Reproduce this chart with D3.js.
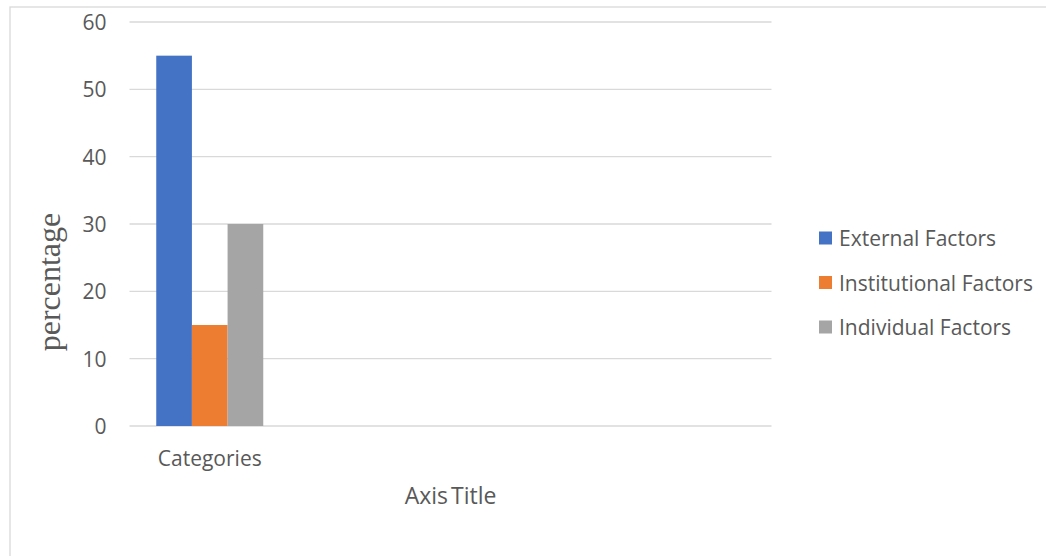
<!DOCTYPE html>
<html>
<head>
<meta charset="utf-8">
<script src="https://cdn.jsdelivr.net/npm/d3@7"></script>
<style>
  body { margin: 0; background: #fff; }
  svg { display: block; }
</style>
</head>
<body>
<svg id="chart" width="1046" height="556"></svg>
<script>
// chart data
const categories = ["Categories", "", "", ""];
const seriesNames = ["External Factors", "Institutional Factors", "Individual Factors"];
const seriesColors = ["#4472C4", "#ED7D31", "#A5A5A5"];
const externalValues = [55];
const institutionalValues = [15];
const individualValues = [30];
const yTicks = [0, 10, 20, 30, 40, 50, 60];

const seriesValues = [externalValues, institutionalValues, individualValues];

const svg = d3.select("#chart");
const plot = { left: 129.5, right: 771.5, top: 22, bottom: 426 };
const textColor = "#595959";
const font = "'Open Sans', sans-serif";

// outer chart border (runs off the right/bottom edge)
svg.append("rect")
    .attr("x", 10).attr("y", 7)
    .attr("width", 1100).attr("height", 600)
    .attr("fill", "none")
    .attr("stroke", "#d9d9d9")
    .attr("stroke-width", 1.3);

const x0 = d3.scaleBand()
    .domain(categories.map((d, i) => i))
    .range([plot.left, plot.right]);

const x1 = d3.scaleBand()
    .domain(seriesNames.map((d, i) => i))
    .range([0, x0.bandwidth()])
    .paddingOuter(0.75);

const y = d3.scaleLinear()
    .domain([0, 60])
    .range([plot.bottom, plot.top]);

// Gridlines
svg.append("g")
    .selectAll("line")
    .data(yTicks)
    .enter()
    .append("line")
    .attr("x1", plot.left)
    .attr("x2", plot.right)
    .attr("y1", d => y(d))
    .attr("y2", d => y(d))
    .attr("stroke", "#d9d9d9")
    .attr("stroke-width", 1.3);

// Y tick labels
svg.append("g")
    .selectAll("text")
    .data(yTicks)
    .enter()
    .append("text")
    .attr("x", 106.5)
    .attr("y", d => y(d))
    .attr("text-anchor", "end")
    .attr("dominant-baseline", "central")
    .attr("fill", textColor)
    .style("font-family", font)
    .style("font-size", "21px")
    .text(d => d);

// Bars
const rows = [];
categories.forEach((c, ci) => {
    seriesValues.forEach((vals, si) => {
        if (vals[ci] !== undefined) rows.push({ ci, si, value: vals[ci] });
    });
});

svg.append("g")
    .selectAll("rect")
    .data(rows)
    .enter()
    .append("rect")
    .attr("x", d => x0(d.ci) + x1(d.si))
    .attr("y", d => y(d.value))
    .attr("width", x1.bandwidth())
    .attr("height", d => y(0) - y(d.value))
    .attr("fill", d => seriesColors[d.si]);

// Category labels
svg.append("g")
    .selectAll("text")
    .data(categories)
    .enter()
    .append("text")
    .attr("x", (d, i) => x0(i) + x0.bandwidth() / 2)
    .attr("y", 458)
    .attr("text-anchor", "middle")
    .attr("dominant-baseline", "central")
    .attr("fill", textColor)
    .style("font-family", font)
    .style("font-size", "21px")
    .text(d => d);

// Axis titles
svg.append("text")
    .attr("x", (plot.left + plot.right) / 2)
    .attr("y", 495)
    .attr("text-anchor", "middle")
    .attr("dominant-baseline", "central")
    .attr("fill", textColor)
    .style("font-family", font)
    .style("font-size", "23px")
    .style("word-spacing", "-3px")
    .text("Axis Title");

svg.append("text")
    .attr("transform", "translate(49,282) rotate(-90)")
    .attr("text-anchor", "middle")
    .attr("dominant-baseline", "central")
    .attr("fill", textColor)
    .style("font-family", "'Liberation Serif', 'DejaVu Serif', serif")
    .style("font-size", "32px")
    .text("percentage");

// Legend
const legend = svg.append("g")
    .selectAll("g")
    .data(seriesNames)
    .enter()
    .append("g")
    .attr("transform", (d, i) => `translate(819, ${238 + i * 44.5})`);

legend.append("rect")
    .attr("x", 0)
    .attr("y", -6.5)
    .attr("width", 13)
    .attr("height", 13)
    .attr("fill", (d, i) => seriesColors[i]);

legend.append("text")
    .attr("x", 20)
    .attr("y", 0)
    .attr("dominant-baseline", "central")
    .attr("fill", textColor)
    .style("font-family", font)
    .style("font-size", "21px")
    .text(d => d);
</script>
</body>
</html>
